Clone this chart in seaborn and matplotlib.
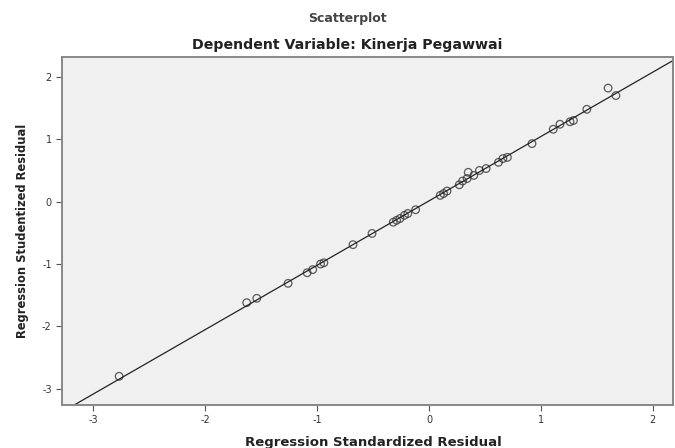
import matplotlib
matplotlib.use("Agg")
import matplotlib.pyplot as plt
import seaborn as sns
import pandas as pd

standardized = [-2.77, -1.63, -1.54, -1.26, -1.09, -1.04, -0.97, -0.94, -0.68, -0.51,
                -0.32, -0.29, -0.26, -0.22, -0.19, -0.12, 0.10, 0.13, 0.16, 0.27,
                0.30, 0.34, 0.35, 0.40, 0.45, 0.51, 0.62, 0.66, 0.70, 0.92,
                1.11, 1.17, 1.26, 1.29, 1.41, 1.60, 1.67]
studentized = [-2.80, -1.62, -1.55, -1.31, -1.14, -1.09, -1.00, -0.98, -0.69, -0.51,
               -0.33, -0.30, -0.27, -0.22, -0.19, -0.13, 0.10, 0.13, 0.17, 0.27,
               0.33, 0.37, 0.47, 0.42, 0.50, 0.53, 0.63, 0.69, 0.71, 0.93,
               1.16, 1.24, 1.28, 1.30, 1.48, 1.82, 1.70]
x_ticks = [-3, -2, -1, 0, 1, 2]
y_ticks = [-3, -2, -1, 0, 1, 2]
title_top = "Scatterplot"
title_sub = "Dependent Variable: Kinerja Pegawwai"
x_label = "Regression Standardized Residual"
y_label = "Regression Studentized Residual"

df = pd.DataFrame({"std": standardized, "stud": studentized})

sns.set_style("white")
plt.rcParams['font.family'] = ['DejaVu Sans']

fig = plt.figure(figsize=(6.75, 4.48), dpi=100)
ax = fig.add_axes([0.092, 0.096, 0.905, 0.777])
ax.set_facecolor("#f0f0f0")
ax.set_xlim(-3.28, 2.18)
ax.set_ylim(-3.26, 2.32)

sns.regplot(data=df, x="std", y="stud", ax=ax, ci=None, truncate=False,
            scatter_kws=dict(s=30, facecolors="none", edgecolors="#333333", linewidths=0.9),
            line_kws=dict(color="#222222", lw=0.9))
ax.set_xlim(-3.28, 2.18)
ax.set_ylim(-3.26, 2.32)

ax.set_xticks(x_ticks)
ax.set_yticks(y_ticks)
ax.set_xticklabels([str(t) for t in x_ticks])
ax.set_yticklabels([str(t) for t in y_ticks])
ax.tick_params(axis="both", direction="out", length=4, width=0.8, colors="#555555",
               labelsize=7, labelcolor="#333333", bottom=True, left=True)

for side, sp in ax.spines.items():
    sp.set_color("#888888")
    sp.set_linewidth(1.4)

ax.set_xlabel(x_label, fontsize=9.5, fontweight="bold", color="#222222")
ax.xaxis.set_label_coords(0.51, -0.088)
ax.set_ylabel(y_label, fontsize=8.3, fontweight="bold", color="#222222")
ax.yaxis.set_label_coords(-0.055, 0.5)

fig.text(0.514, 0.958, title_top, ha="center", va="center", fontsize=9,
         fontweight="bold", color="#444444")
fig.text(0.515, 0.900, title_sub, ha="center", va="center", fontsize=10.2,
         fontweight="bold", color="#222222")

fig.savefig("out.png", dpi=100, facecolor="white")
